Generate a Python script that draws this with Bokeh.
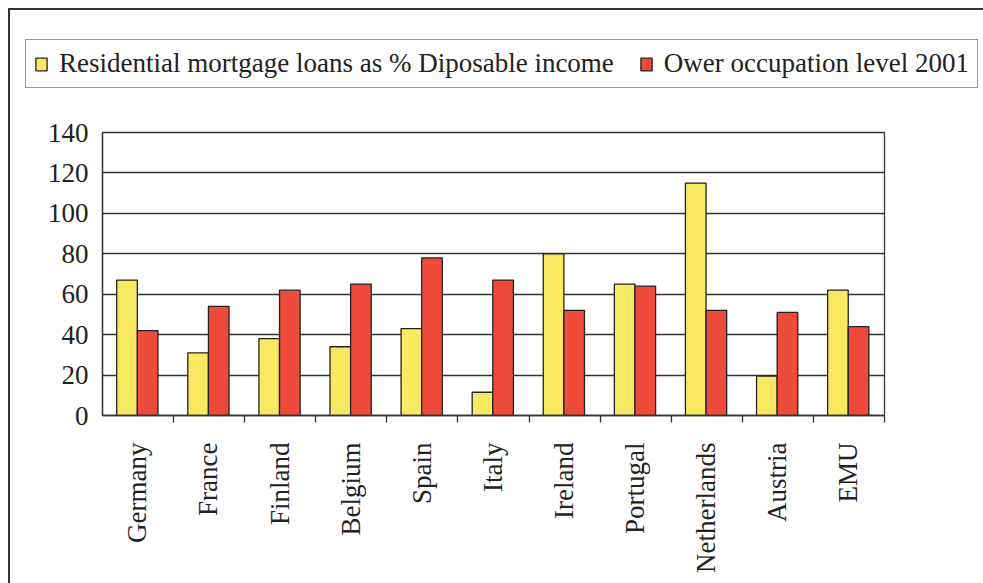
import math
from bokeh.plotting import figure
from bokeh.layouts import column, row
from bokeh.models import ColumnDataSource, FixedTicker, Legend, LegendItem, Spacer
from bokeh.embed import file_html
from bokeh.resources import INLINE

countries = ["Germany", "France", "Finland", "Belgium", "Spain", "Italy",
             "Ireland", "Portugal", "Netherlands", "Austria", "EMU"]
mortgage = [67, 31, 38, 34, 43, 11.5, 80, 65, 115, 19.5, 62]
owner = [42, 54, 62, 65, 78, 67, 52, 64, 52, 51, 44]
y_ticks = [0, 20, 40, 60, 80, 100, 120, 140]
series_names = ["Residential mortgage loans as % Diposable income",
                "Ower occupation level 2001"]

FONT = "Liberation Serif"
DARK = "#333333"
YELLOW = "#F9E862"
RED = "#EE4B3A"

centers = [i + 0.49 for i in range(len(countries))]
src = ColumnDataSource(dict(
    xm=[c - 0.145 for c in centers],
    xo=[c + 0.145 for c in centers],
    mortgage=mortgage,
    owner=owner,
))

W = 973

# ---- main chart ----
p = figure(width=W, height=467, output_backend="svg", toolbar_location=None,
           x_range=(0, len(countries)), y_range=(0, 140),
           min_border_left=92, min_border_right=99, min_border_top=16,
           min_border_bottom=168)
p.frame_align = False

r1 = p.vbar(x="xm", top="mortgage", width=0.29, source=src,
            fill_color=YELLOW, line_color="#222222", line_width=1.3)
r2 = p.vbar(x="xo", top="owner", width=0.29, source=src,
            fill_color=RED, line_color="#222222", line_width=1.3)

p.xaxis.ticker = FixedTicker(ticks=centers,
                             minor_ticks=list(range(1, len(countries) + 1)))
p.xaxis.major_label_overrides = {c: n for c, n in zip(centers, countries)}
p.xaxis.major_label_orientation = math.pi / 2
p.xaxis.major_tick_out = 0
p.xaxis.major_tick_in = 0
p.xaxis.minor_tick_out = 7
p.xaxis.minor_tick_in = 0
p.xaxis.minor_tick_line_color = DARK
p.xaxis.minor_tick_line_width = 1.3
p.xaxis.major_label_standoff = 20

p.yaxis.ticker = FixedTicker(ticks=y_ticks)
p.yaxis.major_tick_out = 0
p.yaxis.major_tick_in = 0
p.yaxis.minor_tick_line_color = None
p.yaxis.major_label_standoff = 14

for ax in (p.xaxis, p.yaxis):
    ax.axis_line_color = DARK
    ax.axis_line_width = 1.3
    ax.major_label_text_font = FONT
    ax.major_label_text_font_size = "27px"
    ax.major_label_text_color = "#222222"

p.xgrid.grid_line_color = None
p.ygrid.ticker = FixedTicker(ticks=y_ticks)
p.ygrid.grid_line_color = DARK
p.ygrid.grid_line_width = 1.3
p.outline_line_color = DARK
p.outline_line_width = 1.3
p.outline_line_alpha = 1.0

# ---- legend strip ----
pl = figure(width=W, height=106, output_backend="svg", toolbar_location=None,
            x_range=(0, 1), y_range=(0, 1), min_border=0,
            x_axis_location=None, y_axis_location=None)
pl.frame_align = False
pl.xgrid.grid_line_color = None
pl.ygrid.grid_line_color = None
pl.outline_line_color = None
# legend-only renderers: a tiny bar hidden underneath the opaque legend box
hidden = ColumnDataSource(dict(x=[0.5], bottom=[0.5], top=[0.505]))
l1 = pl.vbar(x="x", bottom="bottom", top="top", width=0.002, source=hidden,
             fill_color=YELLOW, line_color="#222222", line_width=1.3)
l2 = pl.vbar(x="x", bottom="bottom", top="top", width=0.002, source=hidden,
             fill_color=RED, line_color="#222222", line_width=1.3)

legend = Legend(items=[
    LegendItem(label=series_names[0], renderers=[l1]),
    LegendItem(label=series_names[1], renderers=[l2]),
], orientation="horizontal", location=(15, 28))
legend.label_text_font = FONT
legend.label_text_font_size = "27px"
legend.label_text_color = "#222222"
legend.glyph_width = 14
legend.glyph_height = 16
legend.label_standoff = 11
legend.spacing = 25
legend.padding = 8
legend.margin = 0
legend.label_height = 26
legend.border_line_color = DARK
legend.border_line_width = 1.3
legend.background_fill_color = "white"
legend.background_fill_alpha = 1.0
pl.add_layout(legend, "center")

# page frame: dark rules on the left and top, 8px in from the page corner
top_rule = Spacer(width=W + 2, height=2, styles={"background-color": DARK})
left_rule = Spacer(width=2, height=573, styles={"background-color": DARK})
chart = column(pl, p, spacing=0)
framed = column(top_rule, row(left_rule, chart, spacing=0), spacing=0)
layout = column(Spacer(height=8), row(Spacer(width=8), framed, spacing=0), spacing=0)

open("out.html", "w").write(file_html(layout, INLINE))
